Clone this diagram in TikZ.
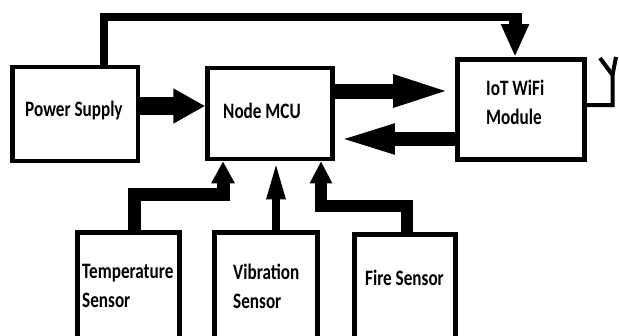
\documentclass[tikz,border=0pt]{standalone}
\usepackage{fontspec}
\setmainfont{Carlito}[FakeStretch=0.78]
\usetikzlibrary{arrows.meta,calc}
\begin{document}
\begin{tikzpicture}[x=1pt,y=-1pt,
  box/.style={draw, line width=4.5pt, inner sep=0pt, minimum width=#1},
  lbl/.style={font=\fontsize{22}{29}\selectfont\bfseries, inner sep=0pt, align=left, anchor=base west},
  fat/.style={line width=#1, line cap=butt, line join=miter},
  every node/.append style={text=black}]
\useasboundingbox[fill=white] (0,0) rectangle (619,335);
% boxes
\node[box=125.5pt, minimum height=94pt] (ps) at (75.25,114) {};
\node[box=125pt, minimum height=91pt] (mcu) at (270,113.5) {};
\node[box=127pt, minimum height=100pt, line width=5pt] (wifi) at (521,109.5) {};
\node[box=102pt, minimum height=120pt] (temp) at (128.5,292.5) {};
\node[box=103pt, minimum height=120pt] (vib) at (266,292.5) {};
\node[box=101pt, minimum height=120pt] (fire) at (405,294.5) {};
% labels
\node[lbl] (pst) at (25,116) {Power Supply};
\node[lbl] (mcut) at (223,118) {Node MCU};
\node[lbl] (wifit) at (486,124) {IoT WiFi\\Module};
\node[lbl] (tempt) at (82,307) {Temperature\\Sensor};
\node[lbl] (vibt) at (233,308) {Vibration\\Sensor};
\node[lbl] (firet) at (365,285) {Fire Sensor};
% antenna
\coordinate (ant) at (612.5,105);
\coordinate (antj) at (612.5,75);
\draw[line width=4pt, line join=miter] (wifi.east |- ant) -- (ant) -- (antj) -- (600,58);
\draw[line width=4pt] (antj) -- (616,57);
% power to wifi (top line)
\coordinate (pup) at ([xshift=28.75pt]ps.north);
\coordinate (ptop) at (515,17);
\coordinate (wtop) at ([xshift=-6pt]wifi.north);
\draw[fat=8pt] (pup) |- ([xshift=-6pt]ptop);
\draw[fat=13pt, -{Triangle[length=33pt,width=26pt]}] ([yshift=4pt]ptop) -- (wtop);
% power to mcu
\draw[fat=18pt, -{Triangle[length=32pt,width=33pt]}] ([yshift=8pt]ps.east) -- ([yshift=7.5pt]mcu.west);
% mcu <-> wifi
\draw[fat=15pt, -{Triangle[length=62pt,width=28pt]}] ([yshift=22.5pt]mcu.east) -- ([yshift=18.5pt]wifi.west);
\draw[fat=14pt, -{Triangle[length=60pt,width=26pt]}] ([yshift=-29.5pt]wifi.west) -- ([yshift=-25.5pt]mcu.east);
% sensors to mcu
\coordinate (tc) at (223,194);
\draw[fat=13pt, -{Triangle[length=22pt,width=22pt]}] ([xshift=5.5pt]temp.north) |- (tc) -- ([xshift=-47pt]mcu.south);
\draw[fat=8pt, -{Triangle[length=38pt,width=17pt]}] ([xshift=10pt]vib.north) -- ([xshift=6pt]mcu.south);
\coordinate (fc) at (321,206);
\draw[fat=12pt, -{Triangle[length=22pt,width=21pt]}] ([xshift=2pt]fire.north) |- (fc) -- ([xshift=51pt]mcu.south);
\end{tikzpicture}
\end{document}
